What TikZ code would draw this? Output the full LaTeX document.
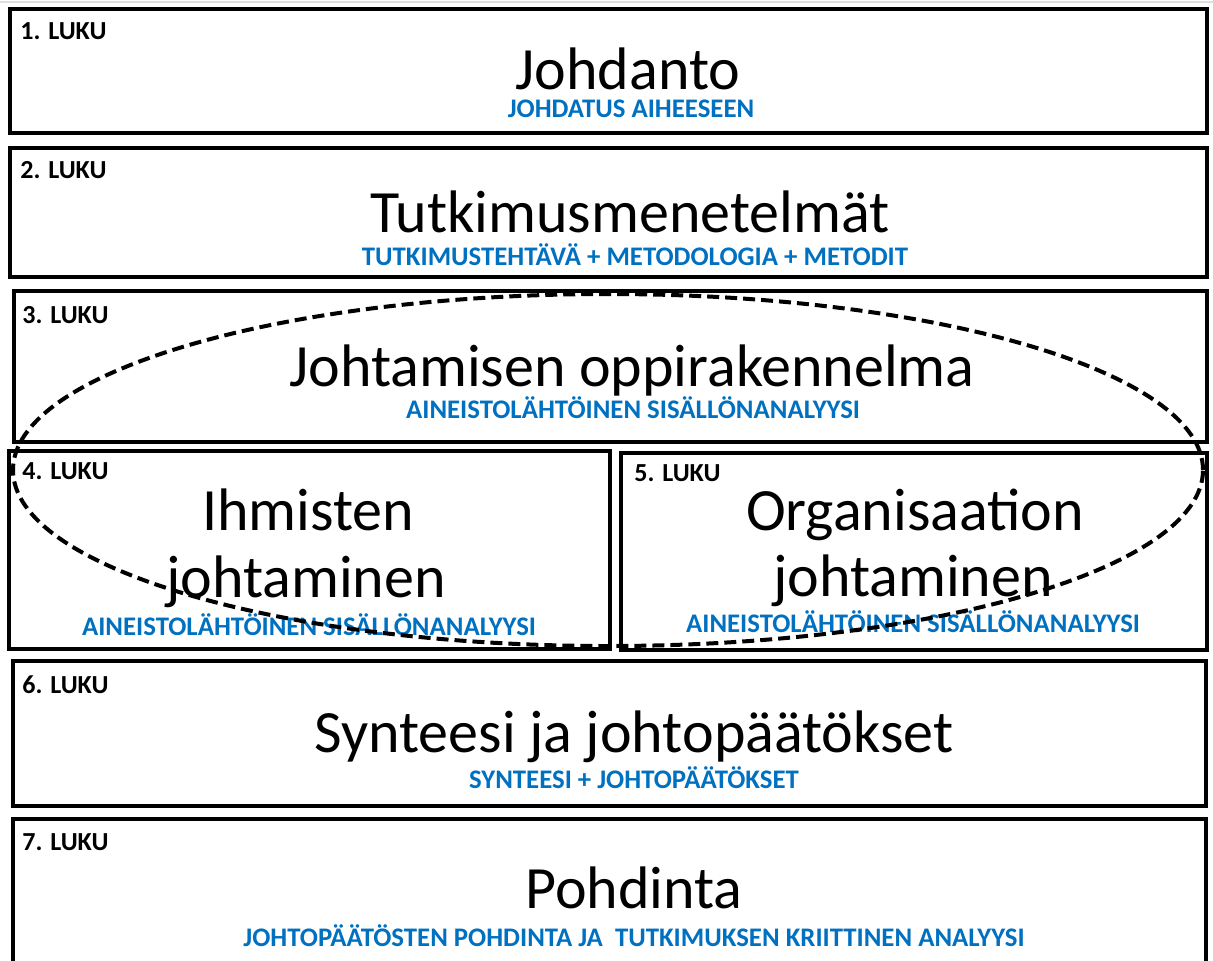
\documentclass[tikz,border=0pt]{standalone}
\usepackage{fontspec}
\setmainfont{Carlito}
\definecolor{subblue}{RGB}{0,112,192}
\tikzset{
  box/.style={draw=black, line width=2.25pt, rectangle, inner sep=0pt, fill=white},
  chap/.style={anchor=west, inner sep=0pt, font=\bfseries\fontsize{13}{15}\selectfont},
  title/.style={inner sep=0pt, font=\fontsize{30}{36}\selectfont},
  sub/.style={inner sep=0pt, text=subblue, font=\bfseries\fontsize{13.4}{15}\selectfont},
  scope/.style={draw=black, line width=2pt, dash pattern=on 6pt off 3pt}
}
\begin{document}
\begin{tikzpicture}[x=0.5pt, y=-0.5pt]
\useasboundingbox (0,0) rectangle (1213,960);
\clip (0,0) rectangle (1213,960);
\fill[white] (0,0) rectangle (1213,960);
% page edge
\draw[gray!25, line width=0.75pt] (0,2) -- (1213,2);

% chapter frames
\node[box, minimum width=598.5pt, minimum height=62pt]   (b1) at (608.5,71) {};
\node[box, minimum width=598.5pt, minimum height=64.5pt] (b2) at (608.5,212.5) {};
\node[box, minimum width=596.5pt, minimum height=75.5pt] (b3) at (610.5,366.5) {};
\node[box, minimum width=300.5pt, minimum height=99pt]   (b4) at (309.5,550) {};
\node[box, minimum width=293pt,   minimum height=98.5pt] (b5) at (914,551.5) {};
\node[box, minimum width=596.5pt, minimum height=72.5pt] (b6) at (609.5,733.5) {};
\node[box, minimum width=596.5pt, minimum height=100pt]  (b7) at (609.5,919) {};

% chapter numbers
\node[chap] (l1) at (20,31)  {1. LUKU};
\node[chap] (l2) at (20,170) {2. LUKU};
\node[chap] (l3) at (22,315) {3. LUKU};
\node[chap] (l4) at (22,471) {4. LUKU};
\node[chap] (l5) at (634,473) {5. LUKU};
\node[chap] (l6) at (22,685) {6. LUKU};
\node[chap] (l7) at (22,842) {7. LUKU};

% chapter titles
\node[title, anchor=base] (t1) at (628,89)  {Johdanto};
\node[title, anchor=base] (t2) at (630,232) {Tutkimusmenetelmät};
\node[title, anchor=base] (t3) at (632,386) {Johtamisen oppirakennelma};
\node[title, anchor=base] (t4a) at (308,530) {Ihmisten};
\node[title, anchor=base] (t4b) at (306,597) {johtaminen};
\node[title, anchor=base] (t5a) at (915,530) {Organisaation};
\node[title, anchor=base] (t5b) at (913,596) {johtaminen};
\node[title, anchor=base] (t6) at (634,752) {Synteesi ja johtopäätökset};
\node[title, anchor=base] (t7) at (634,908) {Pohdinta};

% chapter contents
\node[sub] (s1) at (631,109) {JOHDATUS AIHEESEEN};
\node[sub] (s2) at (635,255) {TUTKIMUSTEHTÄVÄ + METODOLOGIA + METODIT};
\node[sub] (s3) at (633,408) {AINEISTOLÄHTÖINEN SISÄLLÖNANALYYSI};
\node[sub] (s4) at (309,625) {AINEISTOLÄHTÖINEN SISÄLLÖNANALYYSI};
\node[sub] (s5) at (913,622) {AINEISTOLÄHTÖINEN SISÄLLÖNANALYYSI};
\node[sub] (s6) at (634,778) {SYNTEESI + JOHTOPÄÄTÖKSET};
\node[sub] (s7) at (634,936) {JOHTOPÄÄTÖSTEN POHDINTA JA\ \ TUTKIMUKSEN KRIITTINEN ANALYYSI};

% dashed grouping of chapters 3--5
\draw[scope] (608,470) ellipse [x radius=297.5pt, y radius=88pt];
\end{tikzpicture}
\end{document}
